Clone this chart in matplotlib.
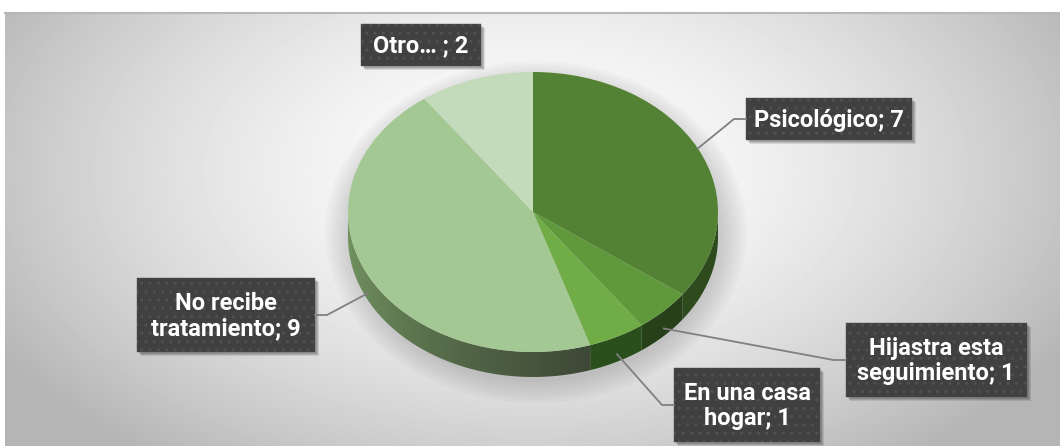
import matplotlib.pyplot as plt
import numpy as np
from matplotlib.patches import Polygon, Rectangle, Ellipse

# Slices, clockwise from 12 o'clock
categories = ["Psicológico", "Hijastra esta\nseguimiento", "En una casa\nhogar",
              "No recibe\ntratamiento", "Otro… "]
values = [7, 1, 1, 9, 2]
top_colors = ["#548235", "#5f993c", "#70ad47", "#a4c893", "#c4dbbb"]
side_colors = ["#2d4b1d", "#27401a", "#2b4f1c", None, "#8aa57c"]

# label box centres / sizes in pixels (layout only)
box_pos = [(829, 119), (936, 360), (747, 405), (226, 315), (421, 45)]
box_size = [(166, 42), (181, 74), (146, 74), (178, 74), (120, 42)]
has_leader = [True, True, True, True, False]

W, H = 1060, 446
fig = plt.figure(figsize=(W / 100, H / 100), dpi=100)

# background with radial gradient
ax_bg = fig.add_axes([0, 0, 1, 1], zorder=1)
xx, yy = np.meshgrid(np.arange(5, W), np.arange(12, H))
r = np.hypot((xx - 530) / 560, (yy - 170) / 330)
shade = 1 - 0.25 * np.clip(r, 0, 1.1) ** 1.6
ax_bg.imshow(shade, cmap='gray', vmin=0, vmax=1, extent=[5, W, H, 12],
             aspect='auto', interpolation='bilinear')
ax_bg.plot([5, W], [12.5, 12.5], color='#b8b8b8', lw=1.5)
# soft shadow under the pie
for i in range(8):
    ax_bg.add_patch(Ellipse((536, 232), 372 + i * 7, 300 + i * 6,
                            color='#606060', alpha=0.035, lw=0))
ax_bg.set_xlim(0, W)
ax_bg.set_ylim(H, 0)
ax_bg.axis('off')

# pie axes: ellipse 370 x 280 px, plus 25 px thickness
px_l, px_r, px_t, px_b = 348, 718, 72, 377
ax_pie = fig.add_axes([px_l / W, (H - px_b) / H, (px_r - px_l) / W, (px_b - px_t) / H],
                      zorder=2)
d = 25 / 140.0
wedges, _ = ax_pie.pie(values, colors=top_colors, startangle=90, counterclock=False,
                       wedgeprops=dict(linewidth=0))
for w in wedges:
    w.set_zorder(3)

# side walls of the 3D pie (visible part: -180..0 deg)
for i, w in enumerate(wedges):
    a = max(w.theta1, -180)
    b = min(w.theta2, 0)
    if a >= b:
        continue
    t = np.radians(np.linspace(a, b, 80))
    xs = np.cos(t)
    ys = np.sin(t)
    pts = np.vstack([np.column_stack([xs, ys]), np.column_stack([xs[::-1], ys[::-1] - d])])
    if side_colors[i] is not None:
        ax_pie.add_patch(Polygon(pts, closed=True, fc=side_colors[i], lw=0, zorder=2))
    else:
        poly = Polygon(pts, closed=True, fc='none', lw=0, zorder=2)
        ax_pie.add_patch(poly)
        grad = np.linspace(0, 1, 200)[None, :] ** 0.7
        c0 = np.array([0x72, 0x93, 0x60]) / 255
        c1 = np.array([0x3d, 0x48, 0x36]) / 255
        img = c0[None, None, :] * (1 - grad[..., None]) + c1[None, None, :] * grad[..., None]
        im = ax_pie.imshow(img, extent=[xs.min(), xs.max(), -1 - d, 0], aspect='auto',
                           zorder=2, interpolation='bilinear')
        im.set_clip_path(poly)

ax_pie.set_aspect('auto')
ax_pie.set_xlim(-1, 1)
ax_pie.set_ylim(-1 - d, 1)
ax_pie.axis('off')

# overlay for labels and leader lines
ax_ov = fig.add_axes([0, 0, 1, 1], zorder=3)
ax_ov.set_xlim(0, W)
ax_ov.set_ylim(H, 0)
ax_ov.axis('off')
ax_ov.patch.set_alpha(0)

to_px = ax_ov.transData.inverted()
for i, w in enumerate(wedges):
    label = f"{categories[i]}; {values[i]}"
    cx, cy = box_pos[i]
    bw, bh = box_size[i]
    if has_leader[i]:
        mid = np.radians((w.theta1 + w.theta2) / 2)
        ax_, ay_ = np.cos(mid), np.sin(mid)
        if ay_ < 0:
            ay_ -= d * 0.7
        p = to_px.transform(ax_pie.transData.transform((ax_, ay_)))
        if cx > p[0]:
            edge = cx - bw / 2
            elbow = edge - 12
        else:
            edge = cx + bw / 2
            elbow = edge + 12
        ax_ov.plot([p[0], elbow, edge], [p[1], cy, cy], color='#808080', lw=1.3,
                   solid_joinstyle='miter')
    # shadow
    for k, a in enumerate([0.12, 0.12, 0.1]):
        ax_ov.add_patch(Rectangle((cx - bw / 2 + 2 + k, cy - bh / 2 + 2 + k), bw, bh,
                                  fc='black', alpha=a, lw=0))
    ax_ov.add_patch(Rectangle((cx - bw / 2, cy - bh / 2), bw, bh, fc='#404040',
                              ec='#505050', hatch='..', lw=0.3))
    ax_ov.text(cx, cy + 1, label, ha='center', va='center', color='white',
               fontsize=17, fontweight='bold', family='Roboto', linespacing=1.15,
               multialignment='center')

fig.savefig('out.png', dpi=100)
